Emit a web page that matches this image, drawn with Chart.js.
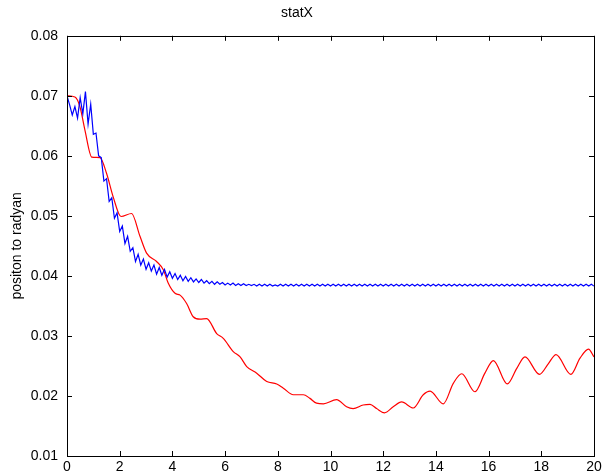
<!DOCTYPE html>
<html>
<head>
<meta charset="utf-8">
<script src="https://cdn.jsdelivr.net/npm/chart.js@4/dist/chart.umd.min.js"></script>
<style>
  html, body { margin: 0; padding: 0; background: #fff; }
</style>
</head>
<body>
<canvas id="myChart" width="605" height="475"></canvas>
<script>
// axis ticks
const xTicks = [0, 2, 4, 6, 8, 10, 12, 14, 16, 18, 20];
const yTicks = [0.01, 0.02, 0.03, 0.04, 0.05, 0.06, 0.07, 0.08];

// blue series, one sample every 0.1 s
const blueStep = 0.1;
const blueY = [
  0.0700, 0.0685, 0.0668, 0.0682, 0.0663, 0.0697, 0.0670, 0.0707, 0.0653, 0.0686,
  0.0636, 0.0638, 0.0600, 0.0597, 0.0558, 0.0562, 0.0524, 0.0530, 0.0496, 0.0505,
  0.0474, 0.0483, 0.0454, 0.0466, 0.0441, 0.0447, 0.0424, 0.0436, 0.0418, 0.0428,
  0.0411, 0.0422, 0.0408, 0.0418, 0.0403, 0.0414, 0.0401, 0.0411, 0.0398, 0.0407,
  0.0396, 0.0404, 0.0394, 0.0401, 0.0392, 0.0399, 0.0391, 0.0397, 0.0390, 0.0395,
  0.0389, 0.0394, 0.0388, 0.0392, 0.0387, 0.0391, 0.0386, 0.0390, 0.0386, 0.0389,
  0.0385, 0.0388, 0.0385, 0.0388, 0.0384, 0.0387, 0.0384, 0.0387, 0.0384, 0.0386,
  0.0384, 0.0386, 0.0383, 0.0386, 0.0383, 0.0386, 0.0383, 0.0386, 0.0383, 0.0385,
  0.0383, 0.0386, 0.0383, 0.0386, 0.0383, 0.0386, 0.0383, 0.0386, 0.0383, 0.0386,
  0.0383, 0.0386, 0.0383, 0.0386, 0.0383, 0.0386, 0.0383, 0.0386, 0.0383, 0.0386,
  0.0383, 0.0386, 0.0383, 0.0386, 0.0383, 0.0386, 0.0383, 0.0386, 0.0383, 0.0386,
  0.0383, 0.0386, 0.0383, 0.0386, 0.0383, 0.0386, 0.0383, 0.0386, 0.0383, 0.0386,
  0.0383, 0.0386, 0.0383, 0.0386, 0.0383, 0.0386, 0.0383, 0.0386, 0.0383, 0.0386,
  0.0383, 0.0386, 0.0383, 0.0386, 0.0383, 0.0386, 0.0383, 0.0386, 0.0383, 0.0386,
  0.0383, 0.0386, 0.0383, 0.0386, 0.0383, 0.0386, 0.0383, 0.0386, 0.0383, 0.0386,
  0.0383, 0.0386, 0.0383, 0.0386, 0.0383, 0.0386, 0.0383, 0.0386, 0.0383, 0.0386,
  0.0383, 0.0386, 0.0383, 0.0386, 0.0383, 0.0386, 0.0383, 0.0386, 0.0383, 0.0386,
  0.0383, 0.0386, 0.0383, 0.0386, 0.0383, 0.0386, 0.0383, 0.0386, 0.0383, 0.0386,
  0.0383, 0.0386, 0.0383, 0.0386, 0.0383, 0.0386, 0.0383, 0.0386, 0.0383, 0.0386,
  0.0383, 0.0386, 0.0383, 0.0386, 0.0383, 0.0386, 0.0383, 0.0386, 0.0383, 0.0386,
  0.0383
];

// red series
const redX = [
  0, 0.3, 0.49, 0.68, 0.94, 1.25, 1.5, 1.75, 2.05, 2.45,
  2.77, 3.02, 3.4, 3.66, 3.84, 4.1, 4.29, 4.54, 4.79, 5.05,
  5.3, 5.68, 5.93, 6.31, 6.57, 6.82, 7.2, 7.58, 7.96, 8.21,
  8.59, 8.97, 9.22, 9.47, 9.73, 10.23, 10.61, 10.86, 11.24, 11.5,
  11.75, 12.05, 12.38, 12.7, 13.14, 13.52, 13.78, 14.28, 14.66, 14.98,
  15.48, 15.86, 16.18, 16.71, 17.07, 17.38, 17.93, 18.27, 18.56, 19.12,
  19.47, 19.79, 20
];
const redY = [
  0.0700, 0.0698, 0.0682, 0.0643, 0.0598, 0.0597, 0.0571, 0.0532, 0.0499, 0.0504,
  0.0466, 0.0438, 0.0424, 0.0410, 0.0388, 0.0371, 0.0368, 0.0354, 0.0332, 0.0328,
  0.0329, 0.0304, 0.0296, 0.0274, 0.0265, 0.0249, 0.0238, 0.0224, 0.0220, 0.0213,
  0.0202, 0.0202, 0.0196, 0.0188, 0.0187, 0.0194, 0.0182, 0.0179, 0.0185, 0.0186,
  0.0179, 0.0172, 0.0182, 0.0190, 0.0180, 0.0202, 0.0208, 0.0187, 0.0221, 0.0237,
  0.0207, 0.0238, 0.0259, 0.0220, 0.0246, 0.0265, 0.0236, 0.0254, 0.0269, 0.0236,
  0.0263, 0.0278, 0.0265
];

const fontFam = '"Liberation Sans", Arial, Helvetica, sans-serif';

// matlab style box with inward ticks on all sides
const boxTicks = {
  id: 'boxTicks',
  afterDatasetsDraw(chart) {
    let ctx = chart.ctx;
    let a = chart.chartArea;
    let xs = chart.scales.x, ys = chart.scales.y;
    let len = 5;
    ctx.save();
    ctx.strokeStyle = '#000';
    ctx.lineWidth = 1;
    ctx.beginPath();
    xTicks.forEach(v => {
      let px = Math.round(xs.getPixelForValue(v)) + 0.5;
      ctx.moveTo(px, a.bottom); ctx.lineTo(px, a.bottom - len);
      ctx.moveTo(px, a.top); ctx.lineTo(px, a.top + len);
    });
    yTicks.forEach(v => {
      let py = Math.round(ys.getPixelForValue(v)) + 0.5;
      ctx.moveTo(a.left, py); ctx.lineTo(a.left + len, py);
      ctx.moveTo(a.right, py); ctx.lineTo(a.right - len, py);
    });
    ctx.stroke();
    ctx.strokeRect(Math.round(a.left) + 0.5, Math.round(a.top) + 0.5,
      Math.round(a.right - a.left), Math.round(a.bottom - a.top));
    ctx.restore();
  }
};

let chartSheet = document.getElementById('myChart');
const myChart = new Chart(chartSheet, {
  type: 'line',
  data: {
    datasets: [{
      label: 'blue',
      data: blueY.map((v, i) => ({ x: i * blueStep, y: v })),
      borderColor: '#0000ff',
      borderWidth: 1.2,
      pointRadius: 0,
      tension: 0
    }, {
      label: 'red',
      data: redX.map((v, i) => ({ x: v, y: redY[i] })),
      borderColor: '#ff0000',
      borderWidth: 1.2,
      pointRadius: 0,
      cubicInterpolationMode: 'monotone'
    }]
  },
  options: {
    responsive: false,
    animation: false,
    layout: { padding: { left: 0, right: 11, top: 0, bottom: 0 } },
    plugins: {
      legend: { display: false },
      tooltip: { enabled: false },
      title: {
        display: true,
        text: 'statX',
        color: '#000',
        font: { family: fontFam, size: 14, weight: 'normal' },
        padding: { top: 5, bottom: 14 }
      }
    },
    scales: {
      x: {
        type: 'linear',
        min: 0, max: 20,
        afterBuildTicks: s => { s.ticks = xTicks.map(v => ({ value: v })); },
        afterFit: s => { s.height = 19; },
        grid: { display: false, drawTicks: false },
        border: { display: false },
        ticks: {
          color: '#000',
          padding: 3,
          maxRotation: 0,
          font: { family: fontFam, size: 14 },
          callback: v => String(v)
        }
      },
      y: {
        type: 'linear',
        min: 0.01, max: 0.08,
        afterBuildTicks: s => { s.ticks = yTicks.map(v => ({ value: v })); },
        afterFit: s => { s.width = 67; },
        grid: { display: false, drawTicks: false },
        border: { display: false },
        title: {
          display: true,
          text: 'positon to radyan',
          color: '#000',
          font: { family: fontFam, size: 14 },
          padding: { top: 9, bottom: 0 }
        },
        ticks: {
          color: '#000',
          padding: 9,
          font: { family: fontFam, size: 14 },
          callback: v => v.toFixed(2)
        }
      }
    }
  },
  plugins: [boxTicks]
});
</script>
</body>
</html>
